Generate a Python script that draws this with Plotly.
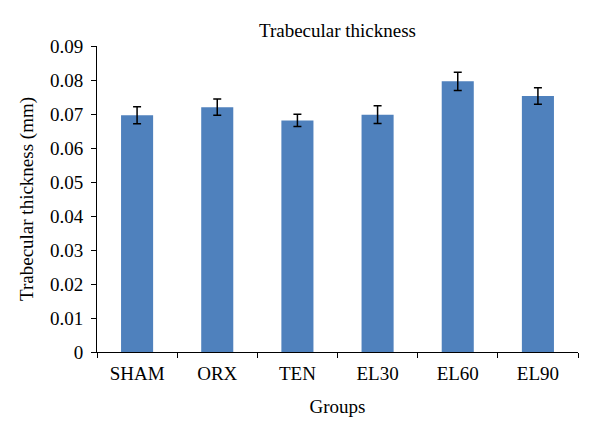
import plotly.graph_objects as go

groups = ["SHAM", "ORX", "TEN", "EL30", "EL60", "EL90"]
thickness = [0.0696, 0.0720, 0.0681, 0.0698, 0.0796, 0.0753]
errors = [0.0025, 0.0024, 0.0018, 0.0026, 0.0027, 0.0024]

font_family = "Liberation Serif, Times New Roman, serif"

fig = go.Figure(go.Bar(
    x=groups, y=thickness,
    marker=dict(color="#4F81BD", line=dict(width=0)),
    error_y=dict(type="data", array=errors, visible=True, color="black", thickness=1.5, width=4),
))

fig.update_layout(
    width=600, height=436,
    margin=dict(l=97, r=22, t=46, b=84),
    paper_bgcolor="white", plot_bgcolor="white",
    bargap=0.6,
    showlegend=False,
    font=dict(family=font_family, size=18, color="black"),
    title=dict(text="Trabecular thickness", x=0.5625, xanchor="center", y=0.93, yanchor="middle",
               font=dict(family=font_family, size=19, color="black")),
)
fig.update_xaxes(
    title=dict(text="Groups", font=dict(size=19), standoff=16),
    tickfont=dict(size=19),
    ticklabelstandoff=4,
    showline=True, linecolor="black", linewidth=1,
    ticks="outside", tickson="boundaries", ticklen=5, tickcolor="black",
    showgrid=False,
)
fig.update_yaxes(
    title=dict(text="Trabecular thickness (mm)", font=dict(size=19), standoff=11),
    tickfont=dict(size=19),
    ticklabelstandoff=4,
    range=[0, 0.09], dtick=0.01, tickformat=".2f",
    showline=True, linecolor="black", linewidth=1,
    ticks="outside", ticklen=5, tickcolor="black",
    showgrid=False, zeroline=False,
    labelalias={"0.00": "0"},
)

fig.write_html("out.html", config={"displayModeBar": False},
               post_script="document.body.style.margin='0';")
